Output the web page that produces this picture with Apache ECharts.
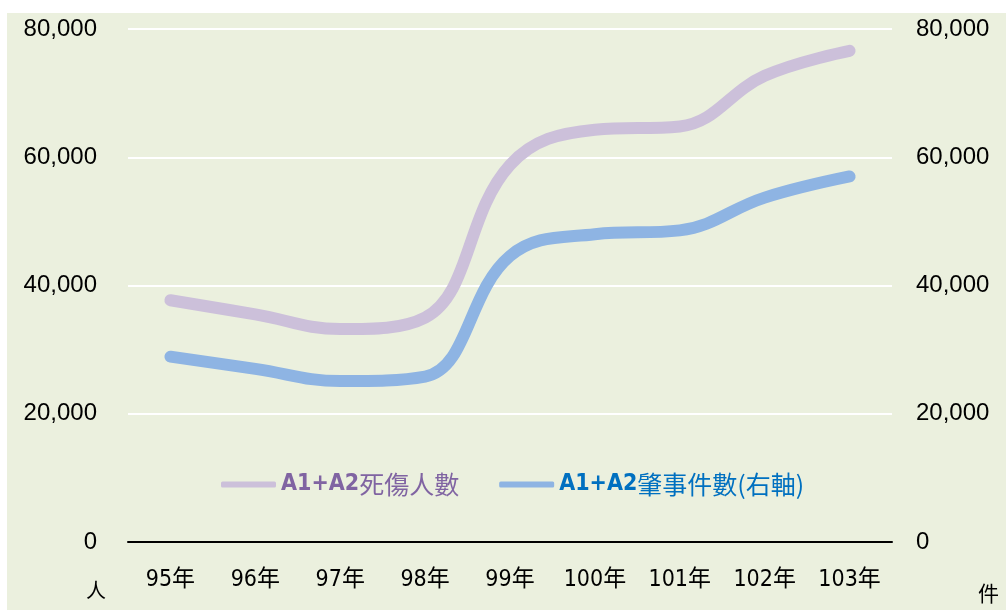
<!DOCTYPE html>
<html>
<head>
<meta charset="utf-8">
<script src="https://cdn.jsdelivr.net/npm/echarts@6/dist/echarts.min.js"></script>
<style>
html,body{margin:0;padding:0;background:#ffffff;}
#c{position:absolute;left:0;top:0;width:1006px;height:610px;}
</style>
</head>
<body>
<div id="c"></div>
<script>
var categories = ['95年','96年','97年','98年','99年','100年','101年','102年','103年'];
var casualties = [37700, 35500, 33200, 35000, 58800, 64300, 64800, 72700, 76600];
var accidents = [28900, 27000, 25100, 25800, 44600, 48000, 48600, 53700, 57000];
var seriesNames = ['A1+A2死傷人數', 'A1+A2肇事件數(右軸)'];
var yTicks = {min: 0, max: 80000, interval: 20000};

var chart = echarts.init(document.getElementById('c'), null, {renderer: 'canvas'});
var narrow = '"Liberation Sans Narrow", "DejaVu Sans Condensed", "Noto Sans CJK TC", sans-serif';
var cjk = '"Noto Sans CJK TC", sans-serif';
var numFont = '"Liberation Sans", "Noto Sans", sans-serif';

function fmt(v){ return v.toLocaleString('en-US'); }

function legendRich(color){
  return {
    a: {fontSize: 23, fontWeight: 'bold', fontFamily: narrow, color: color},
    b: {fontSize: 25, fontFamily: cjk, color: color}
  };
}

chart.setOption({
  backgroundColor: '#ffffff',
  animation: false,
  graphic: [
    {type: 'rect', z: -10, shape: {x: 7, y: 13, width: 999, height: 597}, style: {fill: '#EBF0DE'}},
    {type: 'text', left: 86, top: 580, style: {text: '人', font: '20px "Noto Sans CJK TC"', fill: '#000'}},
    {type: 'text', left: 978, top: 583, style: {text: '件', font: '21px "Noto Sans CJK TC"', fill: '#000'}}
  ],
  grid: {left: 128, right: 114, top: 29, bottom: 68, containLabel: false},
  legend: {
    left: 221, top: 472, padding: 0,
    itemWidth: 55, itemHeight: 6, itemGap: 40,
    icon: 'roundRect',
    data: [
      {name: seriesNames[0], textStyle: {color: '#8064A2', rich: legendRich('#8064A2')}},
      {name: seriesNames[1], textStyle: {color: '#0070C0', rich: legendRich('#0070C0')}}
    ],
    textStyle: {fontSize: 23, fontFamily: narrow},
    formatter: function(n){
      var latin = 'A1+A2';
      return '{a|' + latin + '}{b|' + n.slice(latin.length) + '}';
    }
  },
  xAxis: {
    type: 'category',
    data: categories,
    boundaryGap: true,
    axisLine: {show: true, lineStyle: {color: '#000', width: 2}},
    axisTick: {show: false},
    axisLabel: {margin: 27, color: '#000', fontSize: 23, fontFamily: narrow},
    splitLine: {show: false}
  },
  yAxis: [
    {
      type: 'value', min: yTicks.min, max: yTicks.max, interval: yTicks.interval,
      axisLine: {show: false}, axisTick: {show: false},
      axisLabel: {margin: 31, color: '#000', fontSize: 24, fontFamily: numFont, formatter: fmt},
      splitLine: {show: true, lineStyle: {color: '#ffffff', width: 2}}
    },
    {
      type: 'value', min: yTicks.min, max: yTicks.max, interval: yTicks.interval, position: 'right',
      axisLine: {show: false}, axisTick: {show: false},
      axisLabel: {margin: 24, color: '#000', fontSize: 24, fontFamily: numFont, formatter: fmt},
      splitLine: {show: false}
    }
  ],
  series: [
    {
      name: seriesNames[0], type: 'line', yAxisIndex: 0, data: casualties,
      smooth: 0.4, symbol: 'none',
      itemStyle: {color: '#CCC0DA'},
      lineStyle: {color: '#CCC0DA', width: 12, cap: 'round', join: 'round'}
    },
    {
      name: seriesNames[1], type: 'line', yAxisIndex: 1, data: accidents,
      smooth: 0.4, symbol: 'none',
      itemStyle: {color: '#8EB4E3'},
      lineStyle: {color: '#8EB4E3', width: 12, cap: 'round', join: 'round'}
    }
  ]
});
</script>
</body>
</html>
